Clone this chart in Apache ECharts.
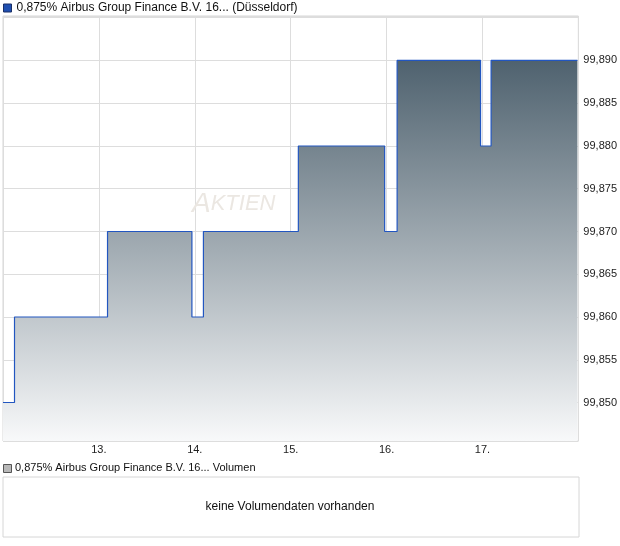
<!DOCTYPE html>
<html>
<head>
<meta charset="utf-8">
<script src="https://cdn.jsdelivr.net/npm/echarts@6/dist/echarts.min.js"></script>
<style>
html,body{margin:0;padding:0;background:#fff;}
#chart{width:620px;height:546px;}
</style>
</head>
<body>
<div id="chart"></div>
<script>
// Time in day-of-month units (fractional days), price in %
var seriesName = '0,875% Airbus Group Finance B.V. 16... (Düsseldorf)';
var volumeLegend = '0,875% Airbus Group Finance B.V. 16... Volumen';
var noVolumeText = 'keine Volumendaten vorhanden';
var times  = [12.00, 12.12, 13.09, 13.97, 14.09, 15.08, 15.98, 16.11, 16.98, 17.09, 17.99];
var prices = [99.850, 99.860, 99.870, 99.860, 99.870, 99.880, 99.870, 99.890, 99.880, 99.890, 99.890];
var dayTicks = [13, 14, 15, 16, 17];
var priceTicks = [99.850, 99.855, 99.860, 99.865, 99.870, 99.875, 99.880, 99.885, 99.890];

var font = 'Arial, "Liberation Sans", sans-serif';
var data = times.map(function (t, i) { return [t, prices[i]]; });

function isPriceTick(v) {
  for (var i = 0; i < priceTicks.length; i++) { if (Math.abs(priceTicks[i] - v) < 1e-7) return true; }
  return false;
}

var chart = echarts.init(document.getElementById('chart'));
chart.setOption({
  animation: false,
  textStyle: { fontFamily: font },
  legend: {
    left: 3, top: 2, padding: 0,
    icon: 'rect', itemWidth: 8, itemHeight: 8, itemGap: 4,
    textStyle: { fontSize: 12, color: '#111', fontFamily: font },
    data: [{ name: seriesName, itemStyle: { color: '#1f4fb0', borderColor: '#1a2f66', borderWidth: 1 } }]
  },
  grid: [
    { left: 3, right: 41, top: 16, bottom: 105, show: true, borderColor: '#d6d6d6', borderWidth: 1, backgroundColor: 'transparent' },
    { left: 3, right: 41, top: 477, height: 60, show: true, borderColor: '#d6d6d6', borderWidth: 1 }
  ],
  xAxis: [
    {
      type: 'value', gridIndex: 0, min: 12, max: 18, interval: 1,
      axisLine: { show: false }, axisTick: { show: false },
      axisLabel: {
        showMinLabel: false, showMaxLabel: false, margin: 3,
        color: '#222', fontSize: 11, fontFamily: font,
        formatter: function (v) { return dayTicks.indexOf(v) >= 0 ? v + '.' : ''; }
      },
      splitLine: { show: true, lineStyle: { color: '#dddddd', width: 1 } }
    },
    { type: 'value', gridIndex: 1, show: false, min: 0, max: 1 }
  ],
  yAxis: [
    {
      type: 'value', gridIndex: 0, position: 'right',
      min: 99.8455, max: 99.8952, splitNumber: 10, scale: true,
      axisLine: { show: false }, axisTick: { show: false },
      axisLabel: {
        showMinLabel: false, showMaxLabel: false, margin: 5,
        color: '#222', fontSize: 11, fontFamily: font,
        formatter: function (v) { return isPriceTick(v) ? v.toFixed(3).replace('.', ',') : ''; }
      },
      splitLine: { show: true, lineStyle: { color: '#dddddd', width: 1 } }
    },
    { type: 'value', gridIndex: 1, show: false, min: 0, max: 1 }
  ],
  graphic: [
    {
      type: 'text', left: 192, top: 190, z: 1, silent: true,
      style: {
        text: '{a|A}{b|KTIEN}',
        rich: {
          a: { fontSize: 28, fontStyle: 'italic', fill: '#ebe7e2', fontFamily: font },
          b: { fontSize: 22, fontStyle: 'italic', fill: '#ebe7e2', fontFamily: font }
        }
      }
    },
    {
      type: 'rect', left: 3, top: 464, z: 10,
      shape: { width: 8, height: 8 },
      style: { fill: '#b8b8b8', stroke: '#555', lineWidth: 1 }
    },
    {
      type: 'text', left: 15, top: 462, z: 10,
      style: { text: volumeLegend, fontSize: 11, fill: '#111', fontFamily: font }
    },
    {
      type: 'text', x: 290, y: 507, z: 10,
      style: { text: noVolumeText, fontSize: 12, fill: '#111', fontFamily: font, align: 'center', verticalAlign: 'middle' }
    }
  ],
  series: [{
    name: seriesName, type: 'line', xAxisIndex: 0, yAxisIndex: 0,
    step: 'end', showSymbol: false, symbol: 'none', z: 3,
    data: data,
    lineStyle: { color: '#2256c0', width: 1.2 },
    itemStyle: { color: '#1f4fb0' },
    areaStyle: {
      origin: 'start', opacity: 1,
      color: new echarts.graphic.LinearGradient(0, 0, 0, 1, [
        { offset: 0, color: '#4f626f' },
        { offset: 0.5, color: '#a3adb4' },
        { offset: 1, color: '#f8f9fa' }
      ])
    }
  }]
});
</script>
</body>
</html>
